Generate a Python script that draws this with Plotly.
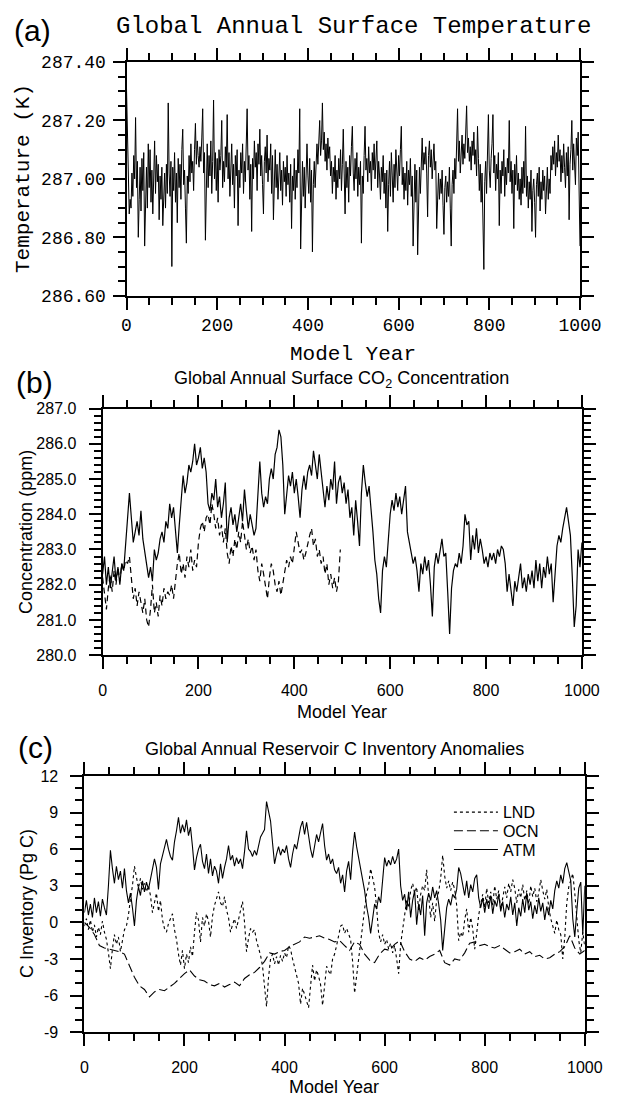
import plotly.graph_objects as go

# ---------------- DATA ----------------
# (a) Global annual surface temperature (K), every 2 model years
years_a = list(range(0, 1001, 2))
temp_a = [
    287.31, 287.12, 286.96, 286.88, 286.93, 286.90, 287.02, 286.94, 287.08, 287.00, 287.21, 286.97, 287.06, 286.80, 286.93, 287.04, 286.89, 287.07, 286.96, 287.09, 286.77, 286.95, 287.04, 286.90, 287.12,
    286.97, 287.10, 286.92, 287.03, 286.88, 287.06, 287.13, 286.95, 287.08, 286.99, 287.05, 286.86, 287.01, 286.93, 287.04, 286.84, 286.98, 287.02, 286.90, 287.05, 286.95, 287.26, 287.02, 286.94, 287.06,
    286.70, 287.04, 286.96, 287.09, 286.92, 287.02, 286.85, 287.07, 286.97, 287.05, 286.93, 287.10, 287.17, 286.98, 287.03, 286.90, 286.78, 287.01, 286.95, 287.08, 286.99, 287.12, 287.02, 287.06, 286.96,
    287.10, 287.19, 287.05, 287.13, 287.08, 287.04, 287.11, 287.06, 287.14, 287.24, 287.02, 287.09, 286.79, 287.05, 287.12, 286.97, 287.08, 287.01, 287.13, 286.95, 287.06, 287.27, 287.00, 287.09, 286.96,
    287.07, 286.92, 287.10, 287.03, 287.08, 287.20, 286.97, 287.06, 286.99, 287.11, 287.04, 287.22, 287.00, 287.09, 286.94, 287.07, 287.12, 286.98, 287.05, 286.90, 287.08, 287.01, 287.10, 286.84, 287.03,
    286.97, 287.09, 287.02, 287.12, 286.95, 287.06, 286.99, 287.11, 287.24, 287.03, 287.08, 286.93, 287.05, 286.82, 287.07, 287.00, 287.13, 287.04, 287.09, 286.96, 287.12, 287.05, 287.17, 287.01, 287.08,
    286.98, 286.88, 287.06, 287.11, 287.02, 287.15, 286.99, 287.07, 287.03, 287.12, 286.95, 287.08, 286.86, 287.04, 287.10, 286.97, 287.05, 286.93, 287.02, 287.09, 286.96, 287.03, 286.91, 287.06, 286.99,
    287.04, 286.94, 287.08, 286.98, 287.02, 286.92, 287.05, 286.83, 287.01, 286.96, 287.07, 286.93, 287.03, 286.97, 287.10, 287.02, 287.24, 286.76, 286.99, 287.06, 286.94, 287.04, 286.90, 287.08, 287.12,
    287.01, 286.95, 287.07, 286.92, 287.03, 286.75, 286.98, 287.06, 286.97, 287.09, 287.12, 287.05, 287.15, 287.20, 287.08, 287.13, 287.26, 287.10, 287.16, 287.06, 287.12, 287.03, 287.14, 287.07, 287.11,
    287.01, 287.06, 286.95, 287.04, 286.99, 287.08, 286.93, 287.03, 286.97, 287.07, 287.00, 287.10, 286.96, 287.05, 287.17, 287.02, 286.88, 287.06, 286.97, 287.04, 286.92, 287.08, 287.01, 287.11, 287.18,
    287.02, 286.96, 287.07, 287.00, 287.09, 286.94, 287.04, 286.98, 287.06, 286.78, 287.01, 286.95, 287.08, 287.18, 287.03, 287.07, 286.99, 287.11, 287.02, 287.06, 286.96, 287.09, 287.03, 287.12, 287.00,
    287.05, 287.13, 286.97, 287.06, 287.01, 286.93, 287.04, 286.99, 287.08, 286.95, 287.02, 286.90, 287.03, 286.82, 286.98, 287.06, 286.94, 287.09, 287.01, 286.92, 287.05, 286.97, 287.10, 287.03, 286.96,
    287.08, 287.01, 287.10, 287.18, 286.98, 287.04, 286.93, 287.02, 286.96, 287.06, 286.91, 287.03, 286.98, 287.07, 286.94, 287.01, 286.77, 286.99, 287.05, 286.92, 287.03, 286.74, 286.97, 287.04, 286.95,
    287.06, 287.14, 287.03, 287.09, 287.05, 287.11, 287.02, 286.87, 287.08, 287.13, 287.04, 287.10, 287.00, 287.07, 287.12, 287.03, 287.06, 286.83, 286.98, 287.02, 286.93, 287.00, 286.95, 287.03, 286.91,
    286.81, 286.97, 287.01, 286.92, 286.99, 286.94, 287.04, 286.90, 286.77, 286.98, 287.03, 286.95, 287.07, 287.00, 287.11, 287.24, 287.06, 287.13, 287.02, 287.09, 287.15, 287.05, 287.12, 287.07, 287.17,
    287.25, 287.09, 287.14, 287.06, 287.11, 287.03, 287.13, 287.08, 287.16, 287.05, 287.10, 287.01, 287.18, 287.07, 286.96, 287.05, 286.92, 287.02, 286.89, 286.69, 286.99, 287.06, 286.95, 287.08, 287.22,
    287.03, 286.97, 287.07, 287.12, 287.22, 287.02, 287.08, 286.96, 287.05, 287.00, 287.09, 286.84, 287.03, 286.95, 287.06, 287.01, 287.10, 286.94, 287.04, 286.98, 287.07, 287.02, 287.20, 286.99, 287.06,
    286.95, 287.03, 286.83, 287.05, 286.98, 287.08, 286.96, 287.02, 286.93, 287.00, 286.91, 287.04, 286.95, 287.06, 286.97, 287.18, 286.94, 287.01, 286.90, 286.99, 286.93, 287.03, 286.82, 286.96, 287.00,
    286.92, 286.80, 286.98, 287.02, 286.94, 287.04, 286.89, 286.99, 286.93, 287.03, 286.96, 287.01, 286.88, 286.97, 287.04, 286.93, 287.00, 286.95, 287.08, 287.03, 287.11, 287.05, 287.13, 287.01, 287.09,
    287.04, 287.15, 287.06, 287.10, 286.99, 287.08, 287.02, 287.12, 287.04, 286.97, 287.09, 287.01, 287.11, 286.86, 287.05, 287.10, 287.20, 287.03, 287.12, 287.06, 286.98, 287.14, 287.08, 287.16, 287.02, 286.77,
]

# (b) Global annual surface CO2 (ppm), every 4 model years
years_b = list(range(0, 1001, 4))
co2_solid = [
    282.3, 282.8, 282.0, 282.5, 281.9, 282.4, 282.8, 282.1, 282.5, 282.0, 282.6, 282.4, 283.2, 284.0, 284.6, 283.9, 283.2, 283.5, 283.8, 283.4, 284.1, 283.3, 282.9, 282.6, 282.2,
    282.5, 282.1, 283.0, 282.7, 282.9, 283.3, 283.5, 283.2, 283.8, 283.6, 284.3, 283.9, 284.2, 283.4, 282.9, 283.7, 284.5, 285.1, 284.6, 284.9, 285.4, 285.2, 285.5, 286.0, 285.4,
    285.6, 285.9, 285.3, 285.6, 285.2, 284.3, 284.1, 284.6, 284.4, 285.0, 284.2, 284.5, 283.9, 284.3, 284.9, 283.2, 283.9, 284.2, 283.7, 284.0, 283.5, 283.9, 284.3, 283.8, 284.7,
    284.1, 283.6, 284.0, 283.7, 283.4, 283.6, 284.6, 285.5, 284.6, 284.2, 284.5, 284.3, 285.0, 285.3, 285.0, 285.7, 285.9, 286.4, 286.2, 285.4, 284.0, 284.6, 285.1, 284.8, 285.2,
    284.6, 285.0, 284.5, 283.9, 284.7, 285.1, 284.7, 285.2, 285.4, 285.1, 285.8, 285.4, 285.0, 285.7, 285.2, 284.6, 284.2, 284.8, 284.4, 285.0, 284.7, 285.5, 284.3, 284.9, 285.1,
    284.6, 284.9, 284.3, 284.7, 283.9, 284.2, 283.4, 284.4, 283.8, 283.1, 284.6, 285.4, 284.9, 284.5, 284.8, 284.2, 283.5, 282.7, 282.3, 281.6, 281.2, 282.4, 282.8, 282.5, 283.2,
    284.0, 284.4, 284.1, 284.6, 284.2, 284.5, 284.0, 284.4, 284.8, 283.5, 283.2, 283.0, 282.6, 282.8, 282.4, 281.8, 282.6, 282.3, 282.8, 282.4, 282.7, 282.0, 281.1, 282.5, 282.9,
    282.6, 283.0, 283.3, 282.8, 282.9, 281.8, 280.6, 281.9, 282.4, 282.6, 282.5, 282.9, 282.6, 283.1, 284.0, 283.7, 283.8, 282.7, 283.4, 283.0, 283.6, 282.9, 283.3, 283.0, 282.6,
    282.8, 282.5, 282.9, 282.7, 282.9, 282.6, 283.0, 282.8, 283.1, 283.0, 282.6, 281.8, 282.3, 281.9, 281.4, 282.1, 281.8, 282.2, 282.6, 281.9, 282.2, 281.8, 282.3, 282.0, 282.4,
    281.9, 282.7, 282.1, 282.6, 281.9, 282.5, 282.2, 282.8, 282.3, 282.6, 281.5, 282.4, 283.1, 283.4, 283.2, 283.6, 283.9, 284.2, 283.8, 283.4, 282.2, 280.8, 281.4, 283.0, 282.5,
    283.2,
]
years_b_dash = list(range(0, 497, 4))
co2_dashed = [
    282.2, 281.7, 281.3, 281.9, 282.3, 281.8, 282.4, 282.0, 282.5, 282.1, 282.6, 282.4, 282.7, 282.6, 282.8, 282.2, 281.6, 281.9, 281.4, 281.8, 281.5, 281.2, 281.6, 281.0, 280.8,
    281.3, 282.0, 281.2, 281.5, 281.1, 281.7, 281.4, 281.9, 281.6, 281.8, 281.7, 282.0, 281.6, 282.1, 282.6, 282.9, 282.3, 282.6, 282.2, 282.8, 282.5, 283.0, 282.4, 282.7, 282.5,
    283.2, 283.6, 283.8, 283.5, 283.9, 284.0, 283.7, 284.3, 284.0, 283.6, 283.9, 283.4, 283.7, 283.2, 283.6, 282.9, 282.6, 283.1, 282.8, 283.3, 283.0, 283.5, 283.2, 283.8, 283.4,
    283.0, 283.3, 282.9, 283.1, 282.7, 283.0, 282.4, 282.1, 282.6, 282.3, 281.9, 281.6, 282.2, 282.6, 282.4, 282.0, 281.8, 282.1, 281.7, 282.0, 282.4, 282.7, 282.5, 282.8, 282.6,
    283.0, 283.5, 283.2, 282.9, 283.0, 282.7, 282.9, 283.2, 283.4, 283.6, 283.1, 283.3, 282.8, 283.0, 282.6, 282.8, 282.3, 282.6, 282.0, 282.3, 281.9, 282.2, 281.8, 282.1, 283.0,
]

# (c) Reservoir C inventory anomalies (Pg C)
years_c = list(range(0, 1001, 4))
atm_c = [
    0.8, 1.8, 0.6, 1.5, 0.4, 2.0, 0.8, 1.7, 0.5, 1.9, 1.2, 0.6, 3.0, 5.9, 4.4, 3.2, 4.6, 3.5, 4.2, 2.8, 4.4, 2.6, 1.6, 2.4, 1.2,
    -0.3, 1.8, 2.9, 2.2, 3.4, 2.5, 3.3, 2.7, 3.6, 4.2, 5.2, 4.5, 2.7, 4.8, 5.5, 6.2, 6.8, 6.0, 5.4, 5.1, 6.6, 7.5, 8.6, 7.3, 8.0,
    7.4, 8.4, 7.1, 7.8, 6.2, 4.3, 5.3, 6.0, 6.4, 5.0, 4.4, 5.6, 4.0, 5.2, 3.8, 4.6, 4.2, 3.2, 4.8, 3.6, 4.5, 5.2, 6.3, 5.1, 5.5,
    4.6, 5.3, 4.8, 5.2, 4.4, 5.8, 7.5, 6.0, 5.8, 5.4, 5.9, 5.5, 6.2, 7.0, 7.3, 7.6, 9.9, 9.2, 8.3, 6.5, 4.8, 5.6, 6.2, 5.5, 6.0,
    5.7, 6.3, 5.2, 4.5, 5.6, 6.4, 6.0, 7.0, 7.8, 8.3, 7.2, 8.2, 7.0, 6.0, 5.3, 6.4, 7.2, 6.6, 7.5, 8.1, 6.3, 5.1, 5.6, 4.8, 5.2,
    4.3, 4.0, 4.5, 3.2, 3.9, 2.5, 4.2, 5.0, 3.5, 5.8, 7.4, 6.2, 5.3, 4.6, 3.8, 2.6, 1.3, 0.4, -0.9, 0.2, 1.5, 1.1, 2.1, 1.6, 3.8,
    5.3, 4.6, 5.1, 4.7, 5.4, 4.8, 5.2, 6.0, 3.0, 1.8, 2.3, 1.0, 2.5, 0.4, 1.8, 2.6, -0.2, 1.5, 0.6, 2.2, -1.1, 1.6, 2.4, 1.8, 2.9,
    2.0, 2.6, 1.5, 0.2, -2.3, -0.5, 1.2, 1.9, 1.4, 2.3, 2.0, 2.7, 4.5, 4.0, 3.2, 2.2, 3.4, 2.0, 3.1, 2.5, 3.6, 3.9, 2.0, 1.2, 2.0,
    0.8, 1.9, 1.1, 2.2, 0.7, 1.8, 1.3, 2.3, 0.9, 1.7, 0.4, 1.5, 1.0, 2.1, 0.6, 1.6, -0.3, 1.2, 0.5, 1.9, 0.8, 2.4, 1.0, 1.7, 0.3,
    1.4, 0.7, 2.0, 0.9, 1.6, 0.2, 1.3, 0.6, 1.8, 1.1, 2.6, 3.4, 2.8, 3.9, 3.2, 4.4, 4.9, 4.1, 3.4, 0.3, -1.2, 0.9, 2.8, 3.3, -1.0,
    3.0,
]
lnd_c = [
    -0.3, 0.3, -0.6, 0.2, -0.8, -0.2, -1.2, -0.4, -1.0, 0.1, -0.8, -1.4, -2.5, -3.8, -2.2, -1.0, -1.8, -1.2, -2.4, -1.5, -0.6, -0.3, 0.6, 1.9, 3.0,
    4.6, 3.5, 2.8, 3.6, 2.7, 3.2, 2.5, 3.0, 2.2, 0.8, 1.6, 2.4, 0.9, 1.8, 0.2, -0.5, -0.8, -0.1, 0.3, 0.7, -0.6, -1.4, -2.6, -3.5, -2.3,
    -3.8, -2.6, -3.3, -2.0, -2.8, -0.8, 0.8, 0.2, -1.6, 0.4, -0.3, 0.7, 0.1, -1.2, 0.5, 1.4, 2.0, 2.5, 1.6, 1.3, 2.1, 1.0, 0.4, -0.8, -0.2,
    0.3, -0.5, 0.2, 0.9, 1.7, 0.0, -2.4, -1.3, -0.5, -0.8, -0.6, -1.5, -2.1, -2.7, -3.6, -5.2, -6.9, -4.5, -3.0, -2.6, -3.4, -2.8, -3.5, -2.7, -3.2,
    -2.5, -2.9, -1.9, -2.2, -3.0, -3.6, -4.2, -5.0, -6.7, -5.4, -5.9, -6.4, -7.0, -5.2, -3.5, -4.8, -3.9, -4.4, -5.1, -6.8, -4.9, -3.6, -4.0, -4.3, -3.0,
    -2.6, -1.9, -1.0, -0.3, -0.2, -0.9, -0.5, -1.0, -1.4, -3.2, -5.8, -4.4, -3.0, -1.6, 0.2, 1.1, 2.4, 3.0, 4.4, 3.5, 2.9, 1.2, -0.9, -1.6, -1.0,
    -1.8, -1.4, -2.2, -1.7, -2.5, -1.9, -3.0, -4.2, -1.8, -0.5, 0.6, 1.8, 1.2, 2.6, 3.2, 2.4, 2.9, 1.0, 2.3, 3.0, 2.6, 4.3, 2.1, 0.4, 1.6,
    0.1, 1.9, 2.5, 3.6, 5.5, 3.8, 2.8, 3.4, 2.6, 3.3, 2.7, 1.4, -1.5, -0.8, -1.2, 0.2, 1.1, -0.8, 0.4, -0.5, -2.2, -0.9, 0.6, 1.5, 2.3,
    1.2, 2.8, 1.6, 2.5, 1.4, 3.0, 1.9, 2.6, 1.1, 2.2, 2.9, 2.0, 3.2, 2.5, 3.5, 2.8, 1.6, 2.7, 2.0, 3.1, 1.8, 2.6, 1.5, 3.0, 2.1,
    2.8, 1.7, 2.4, 3.5, 2.6, 1.9, 2.7, 1.2, 0.3, -0.4, -0.9, 0.2, -0.6, -1.0, -3.0, -1.2, 1.6, 2.9, 3.4, 4.0, 2.4, 0.5, -1.5, -2.5, -0.8,
    -2.0,
]
years_ocn = list(range(0, 1001, 10))
ocn_c = [
    0.0, -0.4, -1.0, -1.9, -2.1, -2.2, -2.3, -2.4, -2.6, -3.5,
    -4.5, -5.2, -5.5, -6.1, -5.7, -5.5, -5.6, -5.3, -5.0, -4.6,
    -4.2, -3.9, -4.4, -4.7, -4.8, -5.1, -5.2, -5.0, -5.3, -5.1,
    -4.9, -5.2, -4.6, -4.3, -4.1, -3.7, -3.2, -2.5, -2.6, -2.4,
    -2.3, -2.0, -1.8, -1.6, -1.2, -1.3, -1.2, -1.1, -1.3, -1.4,
    -1.6, -1.5, -1.9, -2.3, -1.6, -1.8, -2.6, -3.1, -3.3, -2.6,
    -2.2, -2.3, -1.8, -1.5, -2.4, -3.0, -3.2, -2.9, -3.1, -2.8,
    -2.6, -2.3, -3.3, -3.5, -3.0, -3.1, -2.5, -1.7, -1.6, -1.9,
    -1.8, -2.0, -2.1, -1.9, -2.2, -2.5, -2.4, -2.2, -2.6, -2.4,
    -2.8, -2.7, -3.0, -2.9, -2.6, -2.4, -2.0, -1.1, -2.1, -2.6,
    -2.3,
]

yticks_c = [-9, -6, -3, 0, 3, 6, 9, 12]
yticklabels_c = ["-9", "-6", "-3", "0", "3", "6", "9", "12"]

assert len(temp_a) == len(years_a), len(temp_a)
assert len(co2_solid) == len(years_b), len(co2_solid)
assert len(co2_dashed) == len(years_b_dash), len(co2_dashed)
assert len(atm_c) == len(years_c), len(atm_c)
assert len(lnd_c) == len(years_c), len(lnd_c)
assert len(ocn_c) == len(years_ocn), len(ocn_c)

# ---------------- FIGURE ----------------
W, H = 624, 1108
MONO = "Liberation Mono"
SANS = "Liberation Sans"


def px(x):
    return x / W


def py(y):
    return 1 - y / H


fig = go.Figure()
fig.add_trace(go.Scatter(x=years_a, y=temp_a, mode="lines", line=dict(color="black", width=1),
                         xaxis="x", yaxis="y", showlegend=False))
fig.add_trace(go.Scatter(x=years_b, y=co2_solid, mode="lines", line=dict(color="black", width=1.2),
                         xaxis="x2", yaxis="y2", showlegend=False))
fig.add_trace(go.Scatter(x=years_b_dash, y=co2_dashed, mode="lines",
                         line=dict(color="black", width=1.2, dash="6px,4px"),
                         xaxis="x2", yaxis="y2", showlegend=False))
fig.add_trace(go.Scatter(x=years_c, y=lnd_c, mode="lines", name="LND", legend="legend",
                         line=dict(color="black", width=1.1, dash="3px,3px"), xaxis="x3", yaxis="y3"))
fig.add_trace(go.Scatter(x=years_ocn, y=ocn_c, mode="lines", name="OCN", legend="legend2",
                         line=dict(color="black", width=1.1, dash="9px,4px"), xaxis="x3", yaxis="y3"))
fig.add_trace(go.Scatter(x=years_c, y=atm_c, mode="lines", name="ATM", legend="legend3",
                         line=dict(color="black", width=1.1), xaxis="x3", yaxis="y3"))


def axis(domain, anchor, rng, tick0, dtick, mdtick, font, standoff, **kw):
    d = dict(domain=domain, anchor=anchor, range=rng, tick0=tick0, dtick=dtick,
             ticks="outside", ticklen=12, tickwidth=2, tickcolor="black",
             showline=True, linecolor="black", linewidth=2, mirror="allticks",
             showgrid=False, zeroline=False, tickfont=font, ticklabelstandoff=standoff,
             minor=dict(ticks="outside", ticklen=7, tickwidth=1.5, tickcolor="black",
                        tick0=tick0, dtick=mdtick, showgrid=False))
    d.update(kw)
    return d


fa = dict(family=MONO, size=18, color="black")
fb = dict(family=SANS, size=16, color="black")

ya_top, ya_bot = 54, 292
yb_top, yb_bot = 407, 658
yc_top, yc_bot = 781, 1042


def leg(yc):
    return dict(x=px(464), y=py(yc), xanchor="left", yanchor="middle", bgcolor="rgba(0,0,0,0)",
                font=dict(family=SANS, size=16, color="black"), itemwidth=44,
                borderwidth=0)


fig.update_layout(
    width=W, height=H, margin=dict(l=0, r=0, t=0, b=0),
    paper_bgcolor="white", plot_bgcolor="white",
    xaxis=axis([px(127), px(601)], "y", [0, 1000], 0, 200, 50, fa, 0),
    yaxis=axis([py(ya_bot), py(ya_top)], "x", [286.6, 287.4], 286.6, 0.2, 0.05, fa, 3, tickformat=".2f"),
    xaxis2=axis([px(102), px(603)], "y2", [0, 1000], 0, 200, 50, fb, 8),
    yaxis2=axis([py(yb_bot), py(yb_top)], "x2", [280, 287], 280, 1, 0.2, fb, 9, tickformat=".1f"),
    xaxis3=axis([px(83), px(606)], "y3", [0, 1000], 0, 200, 50, fb, 8),
    yaxis3=axis([py(yc_bot), py(yc_top)], "x3", [-9, 12], -9, 3, 1, fb, 9,
                tickmode="array", tickvals=yticks_c, ticktext=yticklabels_c),
    legend=leg(818),
    legend2=leg(837),
    legend3=leg(856),
)


def ann(text, x, y, font, xanchor="center", angle=0):
    fig.add_annotation(text=text, x=px(x), y=py(y), xref="paper", yref="paper",
                       xanchor=xanchor, yanchor="middle", showarrow=False, textangle=angle, font=font)


letter = dict(family=SANS, size=30, color="black")
ann("(a)", 7, 22, letter, xanchor="left")
ann("(b)", 9, 380, letter, xanchor="left")
ann("(c)", 11, 752, letter, xanchor="left")

ann("Global Annual Surface Temperature", 364, 18, dict(family=MONO, size=24, color="black"))
ann("Temperature (K)", 20, (ya_top + ya_bot) / 2, dict(family=MONO, size=21, color="black"), angle=-90)
ann("Model Year", 364, 352, dict(family=MONO, size=21, color="black"))

ann("Global Annual Surface CO<sub>2</sub> Concentration", 352, 377, dict(family=SANS, size=18, color="black"))
ann("Concentration (ppm)", 22, (yb_top + yb_bot) / 2, dict(family=SANS, size=18, color="black"), angle=-90)
ann("Model Year", 352, 716, dict(family=SANS, size=18, color="black"))

ann("Global Annual Reservoir C Inventory Anomalies", 344, 754, dict(family=SANS, size=18, color="black"))
ann("C Inventory (Pg C)", 23, (yc_top + yc_bot) / 2, dict(family=SANS, size=18, color="black"), angle=-90)
ann("Model Year", 344, 1098, dict(family=SANS, size=18, color="black"))

fig.write_html("out.html")
